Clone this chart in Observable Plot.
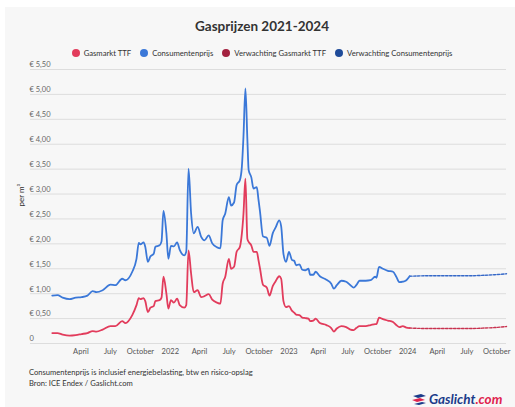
<!DOCTYPE html>
<html>
<head>
<meta charset="utf-8">
<script src="https://cdn.jsdelivr.net/npm/d3@7"></script>
<script src="https://cdn.jsdelivr.net/npm/@observablehq/plot@0.6"></script>
<style>
  html, body { margin: 0; padding: 0; }
  body { width: 515px; height: 407px; overflow: hidden; background: #ffffff; position: relative; font-family: Lato, "Open Sans", sans-serif; }
  #panel { position: absolute; left: 5px; top: 7px; width: 520px; height: 410px; background: #f7f7f7; }
  #title { position: absolute; left: 5px; width: 514px; top: 18px; text-align: center; font-size: 13.5px; font-weight: 700; color: #333; }
  #legend { position: absolute; left: 5px; width: 514px; top: 48px; display: flex; justify-content: center; gap: 9px; font-size: 7.7px; color: #333; }
  #legend .item { display: flex; align-items: center; gap: 4px; }
  #legend .dot { width: 8px; height: 8px; border-radius: 50%; display: inline-block; }
  #chart { position: absolute; left: 0; top: 57px; }
  #caption { position: absolute; left: 29px; top: 367px; font-size: 7.6px; line-height: 11px; color: #333; }
  #logo { position: absolute; left: 412px; top: 392px; display: flex; align-items: center; gap: 2px; font-size: 13.5px; line-height: 14px; font-weight: 700; font-style: italic; white-space: nowrap; }
</style>
</head>
<body>
<div id="panel"></div>
<div id="title">Gasprijzen 2021-2024</div>
<div id="legend"></div>
<div id="chart"></div>
<div id="caption">Consumentenprijs is inclusief energiebelasting, btw en risico-opslag<br>Bron: ICE Endex / Gaslicht.com</div>
<div id="logo"><svg width="15" height="12" viewBox="0 0 15 12"><path d="M1 3 L9 1 L14 3 L6 5 Z" fill="#1b3b8a"/><path d="M0 7 L8 5 L13 7 L5 9 Z" fill="#e0234e"/><path d="M2 11 L10 9 L14 10 L7 12 Z" fill="#1b3b8a"/></svg><span><span style="color:#1b3b8a">Gaslicht</span><span style="color:#e0234e">.com</span></span></div>
<script>
// ---- data ----
const seriesNames = ["Gasmarkt TTF", "Consumentenprijs", "Verwachting Gasmarkt TTF", "Verwachting Consumentenprijs"];
const seriesColors = ["#e23c5c", "#3b78d8", "#a3213f", "#1f4b99"];
const forecastLineColors = ["#c8324f", "#3568c8"];

const dates = ["2021-01-03","2021-01-19","2021-02-04","2021-02-25","2021-03-16","2021-04-03","2021-04-21","2021-05-07","2021-05-19","2021-06-07",
"2021-07-01","2021-07-16","2021-08-06","2021-08-16","2021-09-06","2021-09-19","2021-09-26","2021-10-01","2021-10-11","2021-10-16",
"2021-10-24","2021-11-01","2021-11-11","2021-11-16","2021-11-29","2021-12-05","2021-12-11","2021-12-20","2021-12-26","2022-01-03",
"2022-01-12","2022-01-22","2022-01-30","2022-02-13","2022-02-19","2022-02-26","2022-03-06","2022-03-14","2022-03-26","2022-04-06",
"2022-04-16","2022-04-29","2022-05-10","2022-05-25","2022-06-04","2022-06-11","2022-06-19","2022-06-30","2022-07-07","2022-07-16",
"2022-07-24","2022-08-03","2022-08-09","2022-08-14","2022-08-20","2022-08-26","2022-08-30","2022-09-07","2022-09-14","2022-09-24",
"2022-09-29","2022-10-04","2022-10-13","2022-10-25","2022-11-02","2022-11-12","2022-11-21","2022-12-02","2022-12-08","2022-12-15",
"2022-12-23","2023-01-01","2023-01-10","2023-01-17","2023-01-23","2023-02-02","2023-02-11","2023-02-20","2023-03-02","2023-03-07",
"2023-03-17","2023-03-24","2023-04-06","2023-04-26","2023-05-11","2023-05-19","2023-05-28","2023-06-11","2023-06-26","2023-07-09",
"2023-07-19","2023-07-27","2023-08-06","2023-08-25","2023-09-09","2023-09-23","2023-09-27","2023-10-05","2023-10-17","2023-11-01",
"2023-11-17","2023-11-27","2023-12-07","2023-12-17","2023-12-28","2024-01-07"];

const consumentenprijs = [0.96,0.97,0.92,0.89,0.92,0.93,0.96,1.05,1.03,1.07,
1.18,1.17,1.30,1.27,1.44,1.70,2.02,1.99,2.03,1.94,
1.64,1.75,1.80,1.94,1.97,2.05,2.66,2.21,1.70,1.96,
1.95,2.03,1.88,1.77,1.84,3.51,2.61,2.21,2.34,2.14,
2.07,2.17,2.01,1.93,1.91,2.47,2.61,2.94,2.77,2.83,
3.18,3.28,3.54,4.15,5.12,4.10,3.48,3.34,3.11,3.14,
2.90,2.64,2.15,2.12,1.96,2.21,2.33,2.47,2.35,1.80,
1.64,1.84,1.68,1.66,1.57,1.59,1.48,1.47,1.50,1.38,
1.38,1.44,1.35,1.28,1.20,1.10,1.17,1.26,1.24,1.17,
1.12,1.17,1.26,1.26,1.27,1.34,1.32,1.54,1.50,1.46,
1.44,1.34,1.23,1.24,1.27,1.35];

const gasmarktTTF = [0.21,0.21,0.18,0.16,0.17,0.19,0.21,0.25,0.24,0.28,
0.35,0.35,0.45,0.41,0.57,0.77,0.91,0.89,0.91,0.85,
0.63,0.72,0.75,0.85,0.87,0.92,1.34,1.00,0.70,0.87,
0.82,0.90,0.77,0.72,0.77,1.87,1.40,1.03,1.07,0.93,
0.95,0.99,0.88,0.82,0.80,1.20,1.34,1.70,1.50,1.54,
1.84,1.94,2.20,2.60,3.31,2.10,2.04,1.97,1.84,1.84,
1.68,1.50,1.18,1.12,0.96,1.15,1.25,1.35,1.30,0.85,
0.73,0.75,0.66,0.62,0.58,0.57,0.52,0.51,0.50,0.45,
0.46,0.50,0.41,0.37,0.31,0.24,0.30,0.35,0.33,0.28,
0.27,0.31,0.35,0.35,0.37,0.39,0.39,0.52,0.49,0.46,
0.43,0.37,0.33,0.35,0.32,0.31];

const forecastDates = ["2024-01-07","2024-03-08","2024-05-09","2024-07-09","2024-08-24","2024-09-24","2024-10-31"];
const forecastConsument = [1.35,1.36,1.36,1.36,1.37,1.38,1.40];
const forecastTTF = [0.31,0.30,0.30,0.30,0.31,0.32,0.34];

const yTicks = [0,0.5,1,1.5,2,2.5,3,3.5,4,4.5,5,5.5];
const xTickDates = ["2021-04-01","2021-07-01","2021-10-01","2022-01-01","2022-04-01","2022-07-01","2022-10-01",
"2023-01-01","2023-04-01","2023-07-01","2023-10-01","2024-01-01","2024-04-01","2024-07-01","2024-10-01"];
const monthNames = {1:"January",4:"April",7:"July",10:"October"};
const xDomain = ["2020-10-28","2024-10-31"];
const yLabel = "per m³";

// ---- build ----
const parse = s => new Date(s + "T00:00:00Z");
const actual = [];
dates.forEach((d, i) => {
  actual.push({date: parse(d), value: gasmarktTTF[i], series: seriesNames[0]});
  actual.push({date: parse(d), value: consumentenprijs[i], series: seriesNames[1]});
});
const forecast = [];
forecastDates.forEach((d, i) => {
  forecast.push({date: parse(d), value: forecastTTF[i], series: seriesNames[2]});
  forecast.push({date: parse(d), value: forecastConsument[i], series: seriesNames[3]});
});

const legend = document.getElementById("legend");
seriesNames.forEach((n, i) => {
  const it = document.createElement("div");
  it.className = "item";
  it.innerHTML = `<span class="dot" style="background:${seriesColors[i]}"></span><span>${n}</span>`;
  legend.appendChild(it);
});

const fmtY = v => v === 0 ? "0" : "€ " + v.toFixed(2).replace(".", ",");
const fmtX = d => d.getUTCMonth() === 0 ? String(d.getUTCFullYear()) : monthNames[d.getUTCMonth() + 1];

const chart = Plot.plot({
  width: 515,
  height: 301,
  marginLeft: 30,
  marginRight: 9,
  marginTop: 12,
  marginBottom: 15,
  style: {background: "transparent", fontFamily: "Lato, 'Open Sans', sans-serif", overflow: "visible"},
  x: {type: "utc", domain: xDomain.map(parse)},
  y: {domain: [0, 5.5]},
  color: {domain: seriesNames, range: [seriesColors[0], seriesColors[1], forecastLineColors[0], forecastLineColors[1]]},
  marks: [
    Plot.gridY(yTicks, {stroke: "#dddddd", strokeOpacity: 1, strokeWidth: 1}),
    Plot.axisY(yTicks, {tickSize: 0, tickPadding: 0, textAnchor: "start", dx: -1, dy: -4.5, tickFormat: fmtY, fontSize: 7.5, fill: "#666", label: null}),
    Plot.axisX(xTickDates.map(parse), {tickSize: 0, tickPadding: 5, tickFormat: fmtX, fontSize: 7.5, fill: "#555", label: null}),
    Plot.text([yLabel], {frameAnchor: "left", rotate: -90, dx: -9, fontSize: 8, fill: "#333"}),
    Plot.line(forecast, {x: "date", y: "value", z: "series", stroke: "series", strokeWidth: 1.4, strokeDasharray: "2.5,1.5", curve: "monotone-x"}),
    Plot.line(actual, {x: "date", y: "value", z: "series", stroke: "series", strokeWidth: 1.8, curve: "monotone-x"})
  ]
});
document.getElementById("chart").appendChild(chart);
</script>
</body>
</html>
